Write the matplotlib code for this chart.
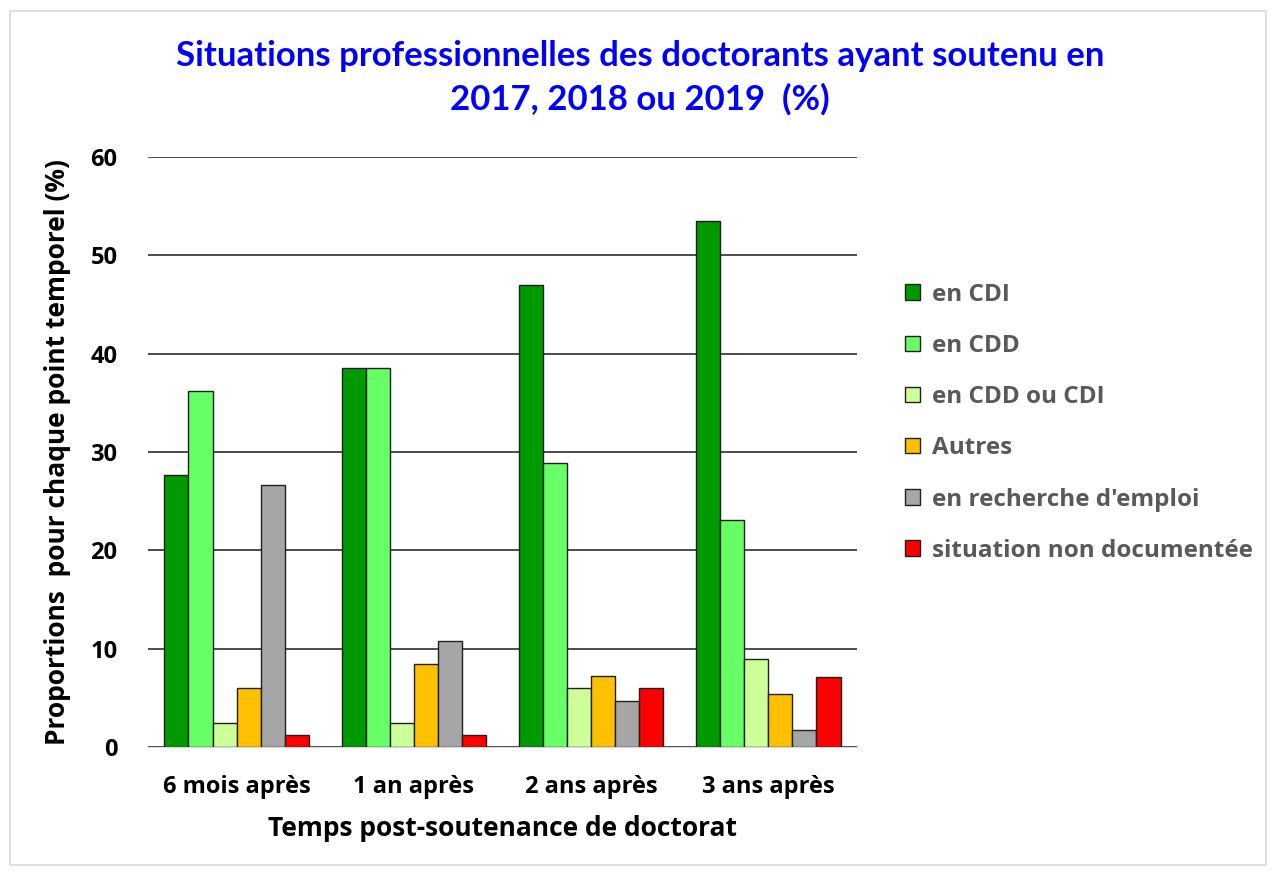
import matplotlib
matplotlib.use('Agg')
import matplotlib.pyplot as plt
import matplotlib.patches as mpatches
import numpy as np

plt.rcParams['font.family'] = ['Open Sans', 'DejaVu Sans']

categories = ['6 mois après', '1 an après', '2 ans après', '3 ans après']
series = ['en CDI', 'en CDD', 'en CDD ou CDI', 'Autres',
          "en recherche d'emploi", 'situation non documentée']
cdi = [27.7, 38.5, 47.0, 53.5]
cdd = [36.2, 38.5, 28.9, 23.1]
cdd_ou_cdi = [2.4, 2.4, 6.0, 8.9]
autres = [6.0, 8.4, 7.2, 5.4]
recherche = [26.6, 10.8, 4.7, 1.7]
non_doc = [1.2, 1.2, 6.0, 7.1]
colors = ['#009900', '#66FF66', '#CCFF99', '#FFC000', '#A6A6A6', '#FF0000']

values = [cdi, cdd, cdd_ou_cdi, autres, recherche, non_doc]

fig = plt.figure(figsize=(12.77, 8.75), dpi=100)
ax = fig.add_axes([0.1159, 0.1463, 0.5551, 0.6743])

# light frame around the whole chart
fig.patches.append(mpatches.Rectangle((0.008, 0.011), 0.983, 0.977,
                                      transform=fig.transFigure, fill=False,
                                      edgecolor='#d9d9d9', lw=1.2))

x = np.arange(len(categories))
w = 0.136
handles = []
for i, (name, vals, c) in enumerate(zip(series, values, colors)):
    off = (i - 2.5) * w
    b = ax.bar(x + off, vals, width=w, color=c, edgecolor='#202020',
               linewidth=1.0, label=name, zorder=3)
    handles.append(b)

ax.set_xlim(-0.5, 3.5)
ax.set_ylim(0, 60)
ax.set_yticks(range(0, 61, 10))
ax.set_xticks(x)
ax.set_xticklabels(categories)
ax.grid(axis='y', color='#1a1a1a', lw=1.1, zorder=0)
ax.tick_params(axis='y', length=0, labelsize=17, pad=22)
ax.tick_params(axis='x', length=0, labelsize=17, pad=20)
for lab in ax.get_xticklabels() + ax.get_yticklabels():
    lab.set_fontweight('bold')
    lab.set_color('black')
for s in ['top', 'right', 'left']:
    ax.spines[s].set_visible(False)
ax.spines['bottom'].set_color('#d9d9d9')

ax.set_xlabel('Temps post-soutenance de doctorat', fontsize=19,
              fontweight='bold', labelpad=12)
ax.set_ylabel('Proportions  pour chaque point temporel (%)', fontsize=19,
              fontweight='bold', labelpad=14)

fig.text(0.501, 0.911,
         'Situations professionnelles des doctorants ayant soutenu en\n2017, 2018 ou 2019  (%)',
         ha='center', va='center', fontsize=25, fontweight='bold',
         color='#0000FF', linespacing=1.4, family=['Lato', 'DejaVu Sans'])

leg = fig.legend(handles=handles, loc='upper left', bbox_to_anchor=(0.709, 0.677),
                 frameon=False, fontsize=17.5, labelspacing=1.12,
                 handlelength=0.6, handleheight=0.6, handletextpad=0.5,
                 borderpad=0, borderaxespad=0)
for t in leg.get_texts():
    t.set_color('#595959')
    t.set_fontweight('bold')

fig.savefig('out.png', dpi=100)
